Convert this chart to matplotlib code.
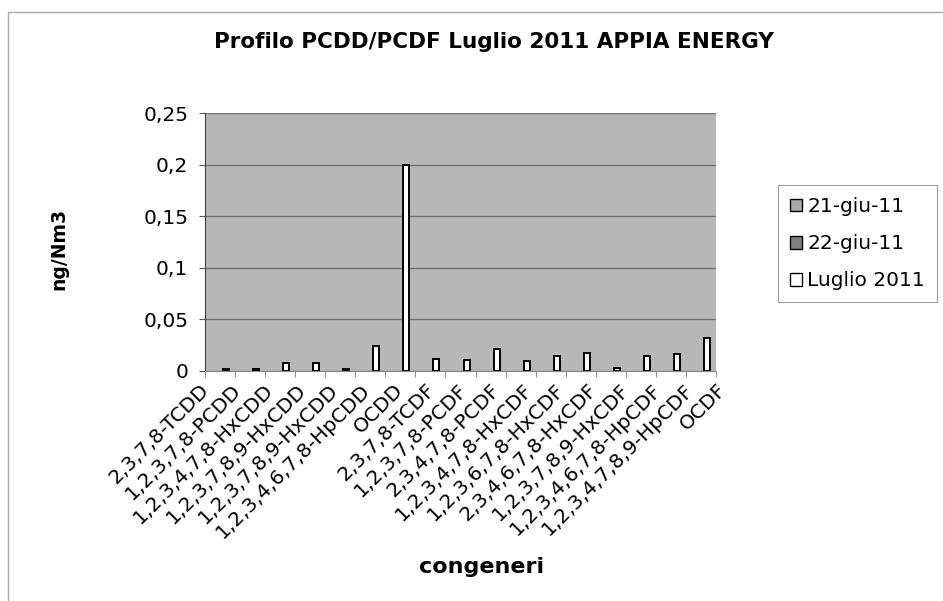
import matplotlib
matplotlib.use("Agg")
import matplotlib.pyplot as plt
import numpy as np
from matplotlib.patches import Rectangle

categories = ["2,3,7,8-TCDD", "1,2,3,7,8-PCDD", "1,2,3,4,7,8-HxCDD", "1,2,3,7,8,9-HxCDD",
              "1,2,3,7,8,9-HxCDD", "1,2,3,4,6,7,8-HpCDD", "OCDD", "2,3,7,8-TCDF",
              "1,2,3,7,8-PCDF", "2,3,4,7,8-PCDF", "1,2,3,4,7,8-HxCDF", "1,2,3,6,7,8-HxCDF",
              "2,3,4,6,7,8-HxCDF", "1,2,3,7,8,9-HxCDF", "1,2,3,4,6,7,8-HpCDF",
              "1,2,3,4,7,8,9-HpCDF", "OCDF"]
giu21 = [0]*17
giu22 = [0]*17
luglio = [0.0016, 0.0016, 0.0074, 0.0078, 0.0023, 0.0246, 0.200, 0.0120, 0.0103, 0.0217,
          0.0100, 0.0142, 0.0178, 0.0029, 0.0146, 0.0162, 0.0317]
series_names = ["21-giu-11", "22-giu-11", "Luglio 2011"]
yticks = [0, 0.05, 0.1, 0.15, 0.2, 0.25]
ytick_labels = ["0", "0,05", "0,1", "0,15", "0,2", "0,25"]

plt.rcParams['font.family'] = ['DejaVu Sans']

fig = plt.figure(figsize=(9.43, 6.01), dpi=100)
fig.patches.append(Rectangle((8/943, -0.1), 1.2, (601-12)/601 + 0.1, transform=fig.transFigure,
                             fill=False, edgecolor='#aaaaaa', linewidth=1.0))

ax = fig.add_axes([205/943, 1-371/601, (716-205)/943, (371-113)/601])
ax.set_facecolor('#b7b7b7')

x = np.arange(len(categories))
w = 0.2
ax.bar(x - w, giu21, w, color='#a9a9a9', edgecolor='black', linewidth=0, label=series_names[0])
ax.bar(x, giu22, w, color='#808080', edgecolor='black', linewidth=0, label=series_names[1])
ax.bar(x + w, luglio, w, color='white', edgecolor='black', linewidth=1.4, label=series_names[2])

ax.set_xlim(-0.5, len(categories) - 0.5)
ax.set_ylim(0, 0.25)
ax.set_yticks(yticks)
ax.set_yticklabels(ytick_labels, fontsize=14.5)
ax.yaxis.grid(True, color='#6f6f6f', linewidth=0.9)
ax.set_axisbelow(True)

# category labels (slightly wider spread than the categories, as in the scanned original)
ax.set_xticks(x)
ax.set_xticklabels([])
ax.tick_params(axis='x', length=0)
n = len(categories)
for i, lab in enumerate(categories):
    ax.annotate(lab, xy=(i, 0), xycoords=('data', 'axes fraction'),
                xytext=(-14 + 2.25 * i, -16), textcoords='offset pixels',
                ha='right', va='center', rotation=45, rotation_mode='anchor',
                fontsize=14.5, annotation_clip=False)
ax.set_xticks(np.arange(n + 1) - 0.5, minor=True)
ax.tick_params(axis='x', which='minor', length=4, color='#777777')
ax.tick_params(axis='y', length=4, color='#555555', pad=8)

for s in ['top', 'right']:
    ax.spines[s].set_visible(False)
ax.spines['left'].set_color('#444444')
ax.spines['bottom'].set_color('#888888')

fig.text(59/943, 1-249/601, "ng/Nm3", fontsize=13.5, fontweight='bold', rotation=90,
         ha='center', va='center')
fig.text(482/943, 1-567/601, "congeneri", fontsize=16, fontweight='bold', ha='center', va='center')
fig.text(494/943, 1-42/601, "Profilo PCDD/PCDF Luglio 2011 APPIA ENERGY", fontsize=15.5,
         fontweight='bold', ha='center', va='center')

leg = fig.legend(loc='upper left', bbox_to_anchor=(778/943, 1-185/601), fontsize=14.5,
                 frameon=True, fancybox=False, edgecolor='#888888', handlelength=0.6,
                 handleheight=0.6, handletextpad=0.25, labelspacing=0.9, borderpad=0.6,
                 borderaxespad=0)
leg.get_frame().set_linewidth(0.8)
for h in leg.legend_handles:
    h.set_edgecolor('black')
    h.set_linewidth(1.0)

fig.savefig("out.png", dpi=100)
